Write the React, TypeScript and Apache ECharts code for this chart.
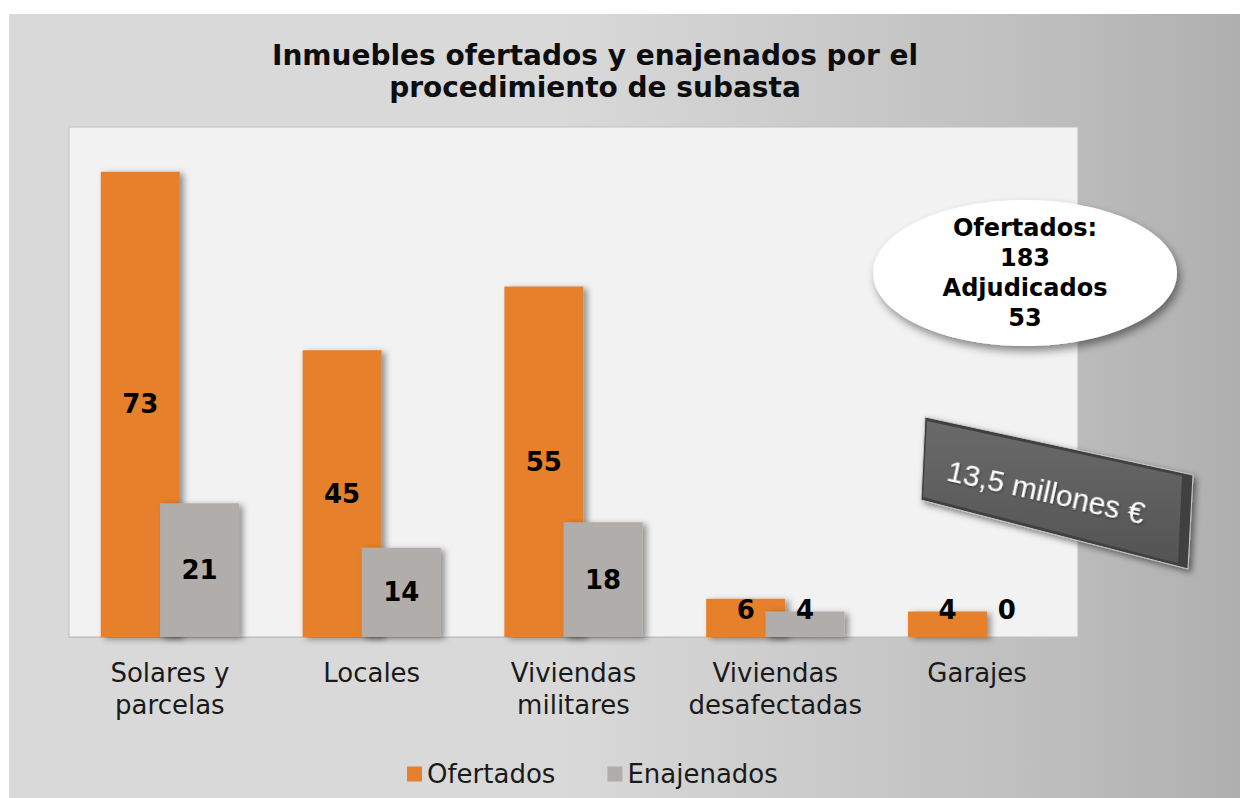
import React, { useEffect, useRef } from "react";
import * as echarts from "echarts";

const categories = [
  "Solares y\nparcelas",
  "Locales",
  "Viviendas\nmilitares",
  "Viviendas\ndesafectadas",
  "Garajes",
];
const ofertados = [73, 45, 55, 6, 4];
const enajenados = [21, 14, 18, 4, 0];
const seriesNames = ["Ofertados", "Enajenados"];
const titleText = "Inmuebles ofertados y enajenados por el\nprocedimiento de subasta";
const summaryText = "Ofertados:\n183\nAdjudicados\n53";
const amountText = "13,5 millones €";

const FONT = "'DejaVu Sans', Verdana, sans-serif";

function buildData(values: number[]) {
  return values.map((v) =>
    v < 10
      ? { value: v, label: { position: "insideBottom", distance: 14 } }
      : { value: v }
  );
}

export default function App() {
  const ref = useRef<HTMLDivElement>(null);
  useEffect(() => {
    if (!ref.current) return;
    const chart = echarts.init(ref.current, undefined, { renderer: "svg" });
    const barLabel = {
      show: true,
      position: "inside",
      fontFamily: FONT,
      fontSize: 26,
      fontWeight: "bold",
      color: "#000",
    };
    const shadow = {
      shadowColor: "rgba(0,0,0,0.4)",
      shadowBlur: 6,
      shadowOffsetX: 4,
      shadowOffsetY: 2,
    };
    chart.setOption({
      animation: false,
      title: {
        text: titleText,
        left: 590,
        top: 34,
        textAlign: "center",
        textStyle: {
          fontFamily: FONT,
          fontSize: 28,
          fontWeight: "bold",
          color: "#0d0d0d",
          lineHeight: 32,
        },
      },
      legend: {
        left: 402,
        top: 756,
        itemWidth: 15,
        itemHeight: 15,
        itemGap: 52,
        icon: "rect",
        textStyle: { fontFamily: FONT, fontSize: 26, color: "#1a1a1a" },
        data: seriesNames,
      },
      grid: {
        left: 69,
        right: 162,
        top: 127,
        bottom: 161,
        show: true,
        backgroundColor: "#f2f2f2",
        borderColor: "#bfbfbf",
        borderWidth: 1,
      },
      xAxis: {
        type: "category",
        data: categories,
        axisLine: { show: true, lineStyle: { color: "#bfbfbf", width: 1 } },
        axisTick: { show: false },
        axisLabel: {
          fontFamily: FONT,
          fontSize: 26,
          color: "#1a1a1a",
          lineHeight: 32,
          margin: 20,
          interval: 0,
        },
      },
      yAxis: {
        type: "value",
        min: 0,
        max: 80,
        show: false,
        splitLine: { show: false },
      },
      series: [
        {
          name: seriesNames[0],
          type: "bar",
          data: buildData(ofertados),
          barWidth: 79,
          barGap: "-25%",
          itemStyle: { color: "#e6802c", ...shadow },
          label: barLabel,
        },
        {
          name: seriesNames[1],
          type: "bar",
          data: buildData(enajenados),
          barWidth: 79,
          barGap: "-25%",
          itemStyle: { color: "#b0adab", ...shadow },
          label: barLabel,
        },
      ],
      graphic: {
        elements: [
          {
            type: "rect",
            z: -10,
            silent: true,
            shape: { x: 9, y: 14, width: 1231, height: 784 },
            style: {
              fill: new echarts.graphic.LinearGradient(0, 0, 1, 0, [
                { offset: 0, color: "#d9d9d9" },
                { offset: 0.45, color: "#d9d9d9" },
                { offset: 0.85, color: "#bdbdbd" },
                { offset: 1, color: "#afafaf" },
              ]),
            },
          },
          {
            type: "ellipse",
            z: 100,
            shape: { cx: 1025, cy: 273, rx: 152, ry: 73 },
            style: {
              fill: "#ffffff",
              shadowColor: "rgba(0,0,0,0.45)",
              shadowBlur: 8,
              shadowOffsetX: 3,
              shadowOffsetY: 5,
            },
          },
          {
            type: "text",
            z: 101,
            x: 1025,
            y: 273,
            style: {
              text: summaryText,
              align: "center",
              verticalAlign: "middle",
              fontFamily: FONT,
              fontSize: 24,
              fontWeight: "bold",
              lineHeight: 30,
              fill: "#000",
            },
          },
          {
            type: "polygon",
            z: 100,
            shape: {
              points: [
                [925, 417],
                [1193, 475],
                [1188, 569],
                [921, 500],
              ],
            },
            style: {
              fill: "#3f3f3f",
              stroke: "#c8c8c8",
              lineWidth: 1,
              shadowColor: "rgba(0,0,0,0.5)",
              shadowBlur: 6,
              shadowOffsetX: 3,
              shadowOffsetY: 3,
            },
          },
          {
            type: "polygon",
            z: 101,
            shape: {
              points: [
                [927, 421],
                [1182, 476],
                [1178, 563],
                [923, 497],
              ],
            },
            style: {
              fill: new echarts.graphic.LinearGradient(0, 0, 0, 1, [
                { offset: 0, color: "#6a6a6a" },
                { offset: 1, color: "#545454" },
              ]),
            },
          },
          {
            type: "text",
            z: 102,
            x: 1046,
            y: 492,
            rotation: -0.215,
            style: {
              text: amountText,
              align: "center",
              verticalAlign: "middle",
              fontFamily: "'Liberation Sans', Arial, sans-serif",
              fontSize: 30,
              fill: "#ffffff",
              textShadowColor: "rgba(0,0,0,0.5)",
              textShadowBlur: 2,
              textShadowOffsetX: 1,
              textShadowOffsetY: 1,
            },
          },
        ],
      },
    });
    return () => chart.dispose();
  }, []);
  return (
    <div
      ref={ref}
      style={{ position: "absolute", left: 0, top: 0, width: 1240, height: 798, background: "#ffffff" }}
    />
  );
}
